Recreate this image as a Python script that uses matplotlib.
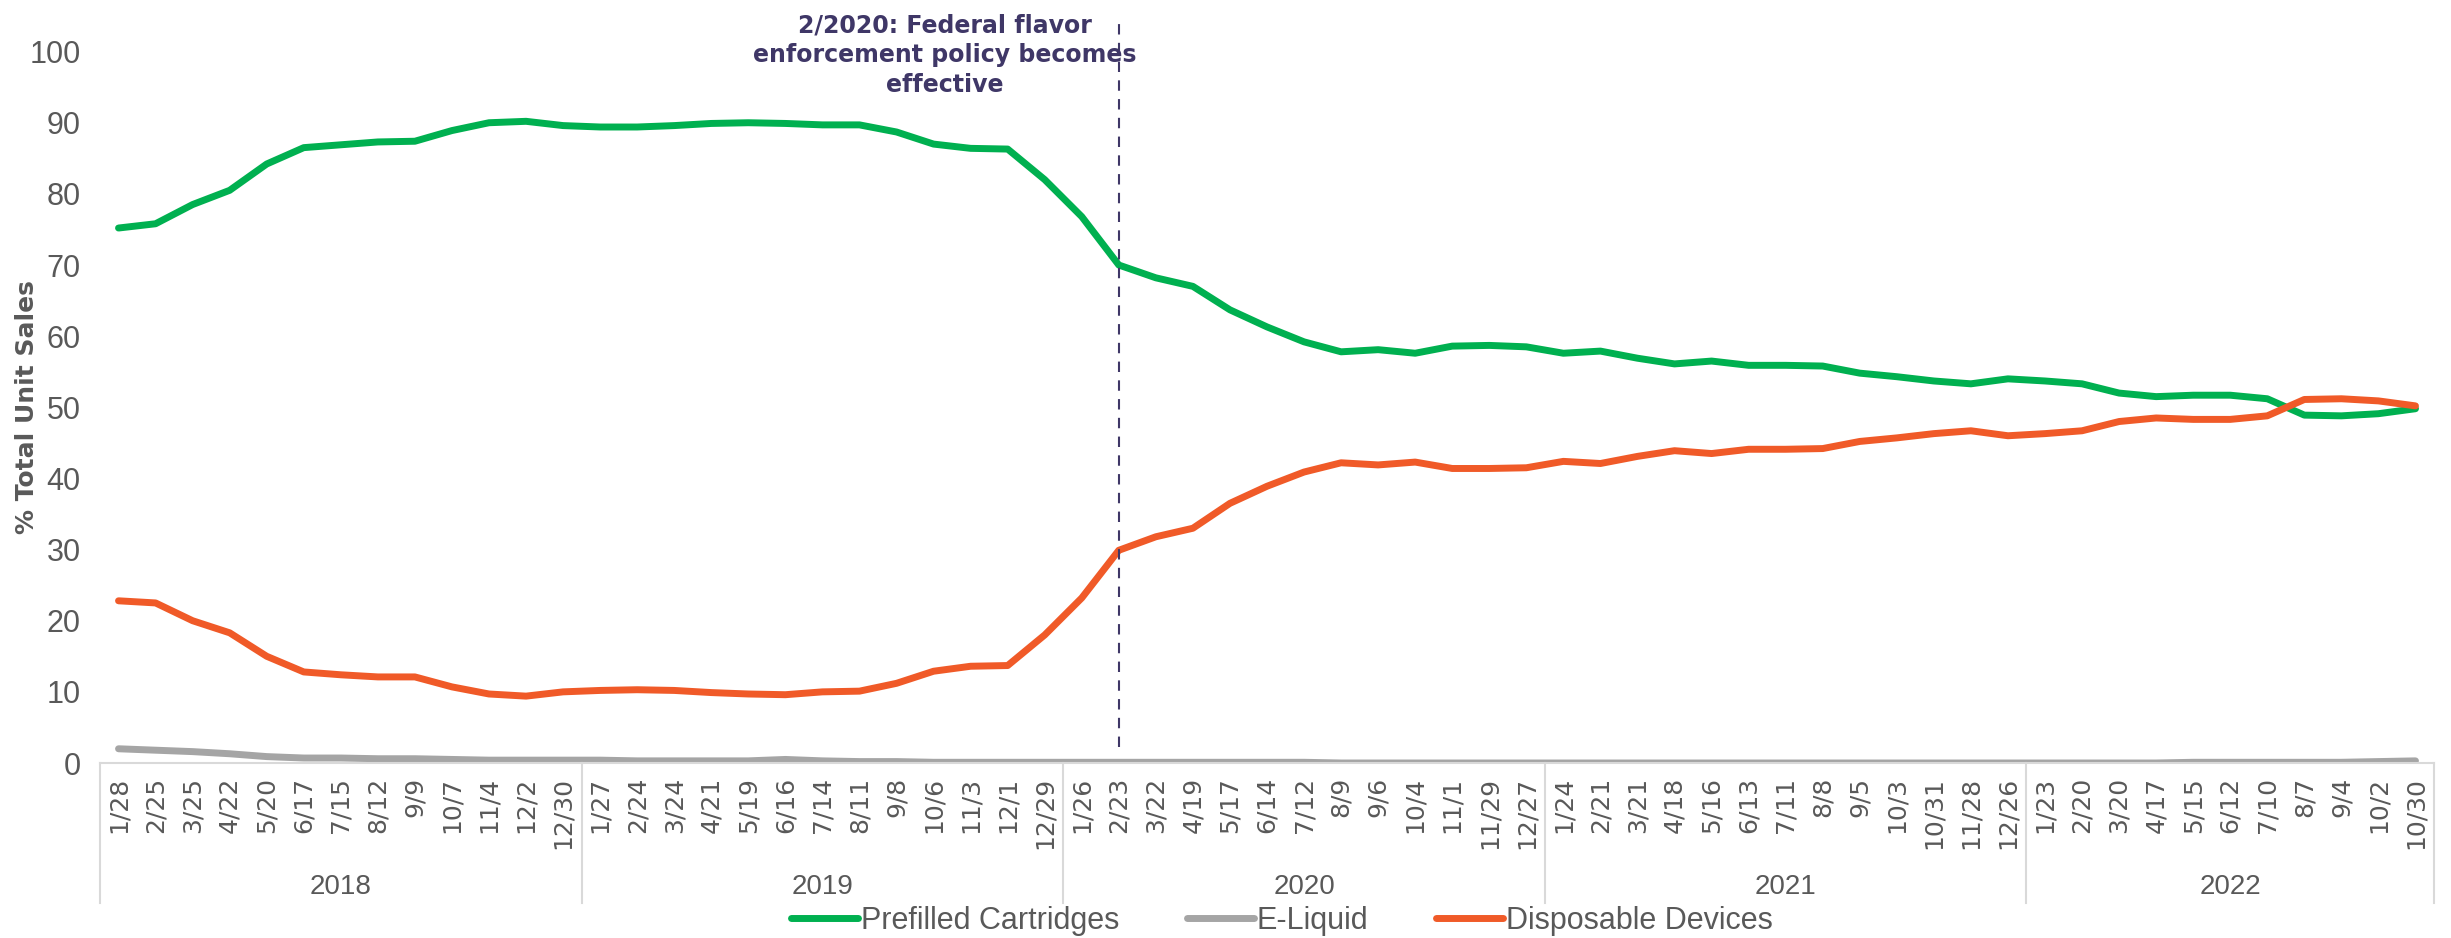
import matplotlib
matplotlib.use("Agg")
import matplotlib.pyplot as plt
import matplotlib.transforms as mtransforms

# week-ending dates, grouped by year
years = ["2018", "2019", "2020", "2021", "2022"]
dates_by_year = [
    ["1/28", "2/25", "3/25", "4/22", "5/20", "6/17", "7/15", "8/12", "9/9", "10/7", "11/4", "12/2", "12/30"],
    ["1/27", "2/24", "3/24", "4/21", "5/19", "6/16", "7/14", "8/11", "9/8", "10/6", "11/3", "12/1", "12/29"],
    ["1/26", "2/23", "3/22", "4/19", "5/17", "6/14", "7/12", "8/9", "9/6", "10/4", "11/1", "11/29", "12/27"],
    ["1/24", "2/21", "3/21", "4/18", "5/16", "6/13", "7/11", "8/8", "9/5", "10/3", "10/31", "11/28", "12/26"],
    ["1/23", "2/20", "3/20", "4/17", "5/15", "6/12", "7/10", "8/7", "9/4", "10/2", "10/30"],
]

prefilled = [75.2, 75.8, 78.5, 80.5, 84.2, 86.5, 86.9, 87.3, 87.4, 88.9, 90.0, 90.2, 89.6,
             89.4, 89.4, 89.6, 89.9, 90.0, 89.9, 89.7, 89.7, 88.7, 87.0, 86.4, 86.3, 82.0,
             76.8, 70.0, 68.2, 67.0, 63.7, 61.3, 59.2, 57.8, 58.1, 57.6, 58.6, 58.7, 58.5,
             57.6, 57.9, 56.9, 56.1, 56.5, 55.9, 55.9, 55.8, 54.8, 54.3, 53.7, 53.3, 54.0,
             53.7, 53.3, 52.0, 51.5, 51.7, 51.7, 51.2, 48.9, 48.8, 49.1, 49.8]
eliquid = [2.0, 1.8, 1.6, 1.3, 0.9, 0.7, 0.7, 0.6, 0.6, 0.5, 0.4, 0.4, 0.4,
           0.4, 0.3, 0.3, 0.3, 0.3, 0.5, 0.3, 0.2, 0.2, 0.1, 0.1, 0.1, 0.1,
           0.1, 0.1, 0.1, 0.1, 0.1, 0.1, 0.1, 0.0, 0.0, 0.0, 0.0, 0.0, 0.0,
           0.0, 0.0, 0.0, 0.0, 0.0, 0.0, 0.0, 0.0, 0.0, 0.0, 0.0, 0.0, 0.0,
           0.0, 0.0, 0.0, 0.0, 0.1, 0.1, 0.1, 0.1, 0.1, 0.2, 0.3]
disposable = [22.8, 22.5, 20.0, 18.3, 15.0, 12.8, 12.4, 12.1, 12.1, 10.7, 9.7, 9.4, 10.0,
              10.2, 10.3, 10.2, 9.9, 9.7, 9.6, 10.0, 10.1, 11.2, 12.9, 13.6, 13.7, 18.0,
              23.2, 29.9, 31.8, 33.0, 36.5, 38.9, 40.9, 42.2, 41.9, 42.3, 41.4, 41.4, 41.5,
              42.4, 42.1, 43.1, 43.9, 43.5, 44.1, 44.1, 44.2, 45.2, 45.7, 46.3, 46.7, 46.0,
              46.3, 46.7, 48.0, 48.5, 48.3, 48.3, 48.8, 51.1, 51.2, 50.9, 50.2]

event_year, event_date = "2020", "2/23"
event_text = "2/2020: Federal flavor\nenforcement policy becomes\neffective"

dates = [d for ys in dates_by_year for d in ys]
x = list(range(len(dates)))

grey_txt = "#595959"
narrow = ["Liberation Sans", "DejaVu Sans"]

fig = plt.figure(figsize=(24.51, 9.38), dpi=100)
ax = fig.add_axes([100 / 2451, 175 / 938, 2334 / 2451, 711.4 / 938])

ax.plot(x, prefilled, color="#00B050", lw=5, label="Prefilled Cartridges", solid_capstyle="round")
ax.plot(x, eliquid, color="#A5A5A5", lw=5, label="E-Liquid", solid_capstyle="round")
ax.plot(x, disposable, color="#F05A28", lw=5, label="Disposable Devices", solid_capstyle="round")

ax.set_xlim(-0.5, len(dates) - 0.5)
ax.set_ylim(0, 100)
ax.set_yticks(range(0, 101, 10))
ax.set_xticks(x)
ax.set_xticklabels(dates, rotation=90, fontsize=18, color=grey_txt, family="DejaVu Sans")
for lab in ax.get_yticklabels():
    lab.set_family(narrow)
    lab.set_fontsize(22)
    lab.set_color(grey_txt)
ax.tick_params(axis="both", length=0)
ax.tick_params(axis="x", pad=10)
ax.tick_params(axis="y", pad=14)

for s in ["top", "right", "left"]:
    ax.spines[s].set_visible(False)
ax.spines["bottom"].set_color("#D9D9D9")
ax.spines["bottom"].set_linewidth(1.5)

ax.set_ylabel("% Total Unit Sales", fontsize=18, fontweight="bold", color=grey_txt)
ax.yaxis.set_label_coords(-0.026, 0.5)

# year groups under the dates
trans = mtransforms.blended_transform_factory(ax.transData, ax.transAxes)
start = 0
bounds = [-0.5]
for yr, ds in zip(years, dates_by_year):
    end = start + len(ds)
    bounds.append(end - 0.5)
    ax.text((start + end - 1) / 2, -0.174, yr, transform=trans, ha="center", va="center",
            fontsize=20, color=grey_txt, family=narrow)
    start = end
for b in bounds:
    ax.plot([b, b], [0, -0.197], transform=trans, color="#D9D9D9", lw=1.5, clip_on=False)

# policy event marker
yi = years.index(event_year)
idx = sum(len(d) for d in dates_by_year[:yi]) + dates_by_year[yi].index(event_date)
ax.plot([idx, idx], [0.022, 1.04], transform=trans, color="#3F3767", lw=1.5,
        ls=(0, (5, 4)), clip_on=False)
ax.text(idx - 4.7, 0.995, event_text, transform=trans, ha="center", va="center",
        fontsize=17, fontweight="bold", color="#3F3767", linespacing=1.3)

fig.legend(loc="center", bbox_to_anchor=(0.523, 0.018), ncol=3, frameon=False,
           prop={"family": narrow, "size": 22},
           labelcolor=grey_txt, handlelength=2.2, handletextpad=0.1, columnspacing=2.2)

fig.savefig("out.png", dpi=100)
